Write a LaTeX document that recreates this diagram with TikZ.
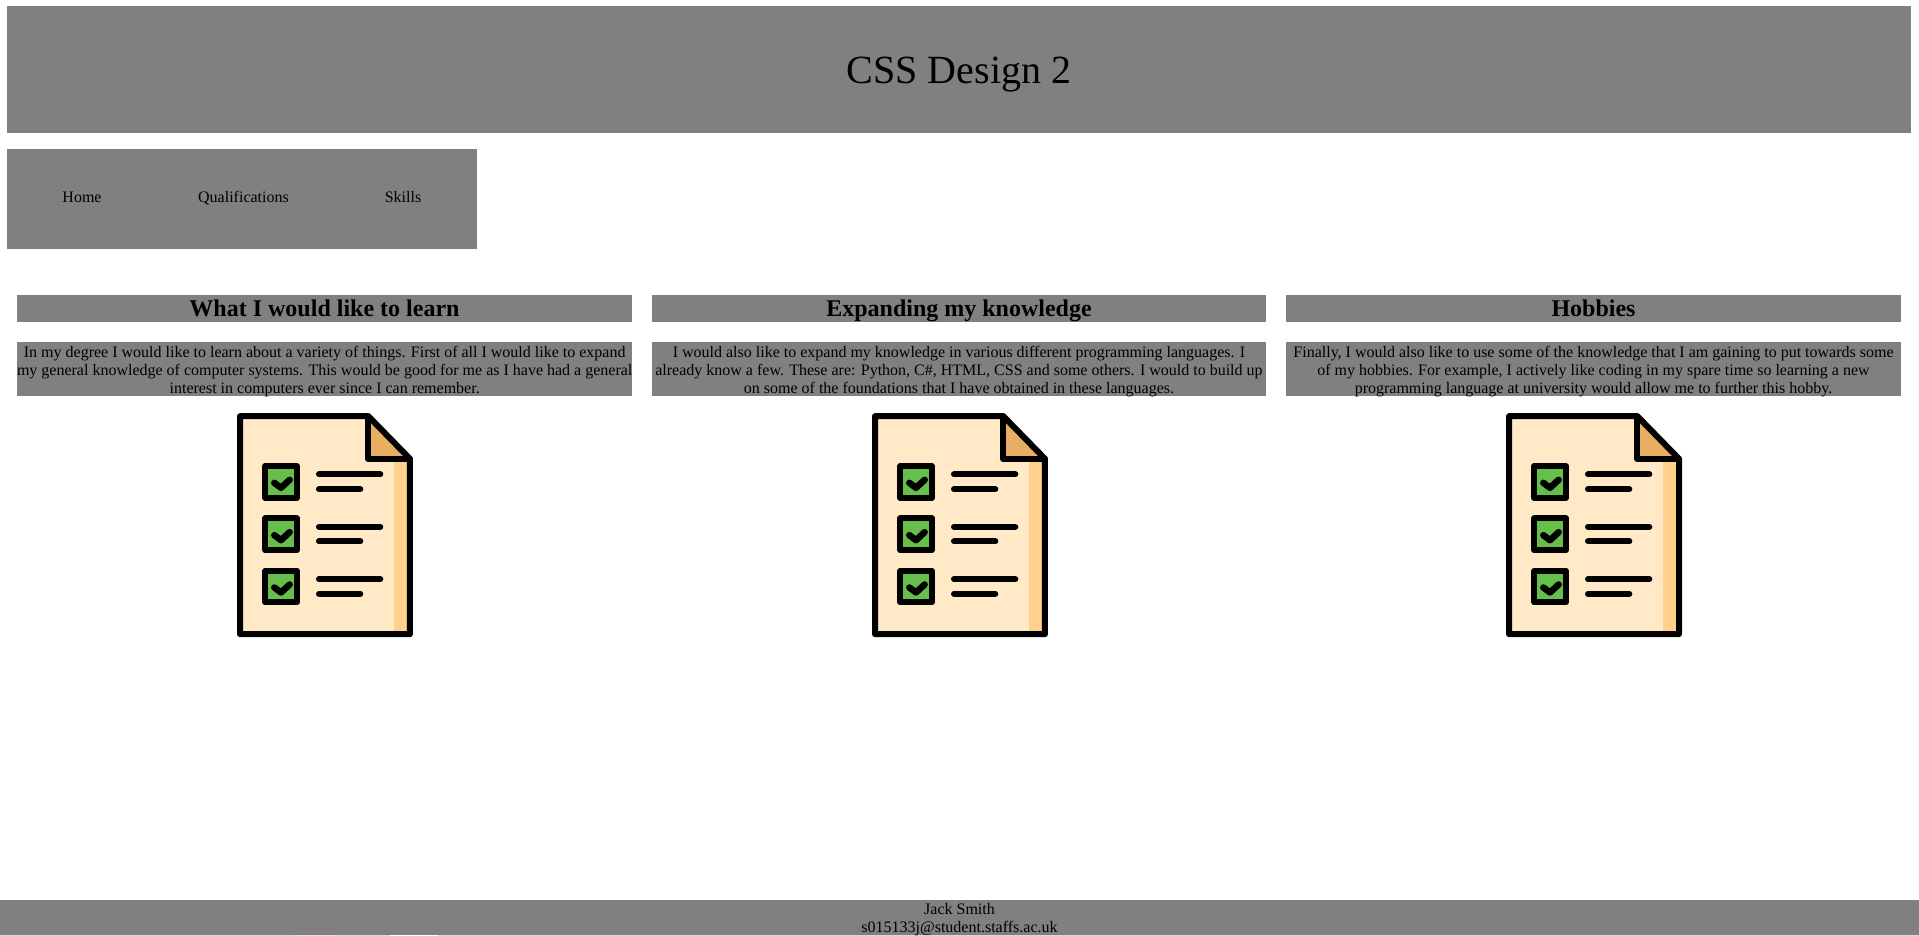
\documentclass[tikz,border=0pt]{standalone}
\usepackage{fontspec}
\setmainfont{Liberation Serif}
\definecolor{bargrey}{HTML}{808080}
\definecolor{paper}{HTML}{FFE9C6}
\definecolor{papershade}{HTML}{FFD18D}
\definecolor{foldfill}{HTML}{E8AE63}
\definecolor{tickgreen}{HTML}{66BF4A}
\newcommand{\bodyline}[1]{\vrule height 14pt depth 4pt width 0pt\relax\raisebox{-1pt}[0pt][0pt]{#1}}
\newcommand{\footline}[1]{\vrule height 14pt depth 3.5pt width 0pt\relax\raisebox{-1pt}[0pt][0pt]{#1}}
\newcommand{\headstrut}{\vrule height 21pt depth 6pt width 0pt\relax}
\newcommand{\titlestrut}{\vrule height 78pt depth 49pt width 0pt\relax}
\tikzset{
  x=1pt,y=-1pt,
  bar/.style={fill=bargrey,draw=none,inner sep=0pt,outer sep=0pt,anchor=north west,align=center,text=black},
  heading/.style={bar,minimum width=615pt,minimum height=27pt,font=\fontsize{24}{27}\selectfont\bfseries},
  para/.style={bar,minimum width=615pt,minimum height=54pt,font=\fontsize{16}{18}\selectfont},
  navlabel/.style={inner sep=0pt,anchor=base,font=\fontsize{16}{18}\selectfont,text=black},
  ink/.style={draw=black,line width=6pt,line join=round,line cap=round},
  sheet/.pic={
    \begin{scope}[x=0.3333pt,y=-0.3333pt]
      \fill[paper] (60,47) -- (445,47) -- (570,175) -- (570,701) -- (60,701) -- cycle;
      \fill[papershade] (521,175) rectangle (570,701);
      \fill[foldfill] (445,47) -- (570,175) -- (445,175) -- cycle;
      \draw[ink] (60,47) -- (445,47) -- (570,175) -- (570,701) -- (60,701) -- cycle;
      \draw[ink] (445,47) -- (445,175) -- (570,175);
      \foreach \dy in {0,157,314}{
        \begin{scope}[yshift=-\dy*0.3333pt]
          \filldraw[fill=tickgreen,ink] (136,197) rectangle (231,292);
          \draw[ink,line width=6.5pt] (163,247) -- (183,262) -- (209,238);
          \draw[ink] (297,222) -- (481,222);
          \draw[ink] (297,266) -- (421,266);
        \end{scope}
      }
    \end{scope}
  }
}
\begin{document}
\begin{tikzpicture}
\useasboundingbox (0,0) rectangle (1919,936);
\fill[white] (0,0) rectangle (1919,936);
\fill[black!15] (0,935) rectangle (1919,936);
\fill[paper!90!gray] (291,935) rectangle (337,936);
\fill[white] (390,935) rectangle (438,936);
\node[bar,minimum width=1904pt,minimum height=127pt,font=\fontsize{40}{46}\selectfont] (header) at (7,6) {\titlestrut CSS Design 2};
\node[bar,minimum width=470pt,minimum height=100pt] (nav) at (7,149) {};
\node[navlabel] (home) at (82,203) {Home};
\node[navlabel] (qual) at (243.5,203) {Qualifications};
\node[navlabel] (skills) at (403,203) {Skills};

\node[heading] (h1) at (17,295) {\headstrut What I would like to learn};
\node[heading,minimum width=614pt] (h2) at (652,295) {\headstrut Expanding my knowledge};
\node[heading] (h3) at (1286,295) {\headstrut Hobbies};

\node[para] (p1) at (17,342) {\bodyline{In my degree I would like to learn about a variety of things. First of all I would like to expand}\\\bodyline{my general knowledge of computer systems. This would be good for me as I have had a general}\\\bodyline{interest in computers ever since I can remember.}};
\node[para,minimum width=614pt] (p2) at (652,342) {\bodyline{I would also like to expand my knowledge in various different programming languages. I}\\\bodyline{already know a few. These are: Python, C\#, HTML, CSS and some others. I would to build up}\\\bodyline{on some of the foundations that I have obtained in these languages.}};
\node[para] (p3) at (1286,342) {\bodyline{Finally, I would also like to use some of the knowledge that I am gaining to put towards some}\\\bodyline{of my hobbies. For example, I actively like coding in my spare time so learning a new}\\\bodyline{programming language at university would allow me to further this hobby.}};

\pic (icon1) at (220,400.5) {sheet};
\pic (icon2) at (855,400.5) {sheet};
\pic (icon3) at (1489,400.5) {sheet};

\node[bar,minimum width=1919pt,minimum height=35.5pt,font=\fontsize{16}{18}\selectfont] (footer) at (0,899.5) {\footline{Jack Smith}\\\footline{s015133j@student.staffs.ac.uk}};
\end{tikzpicture}
\end{document}
